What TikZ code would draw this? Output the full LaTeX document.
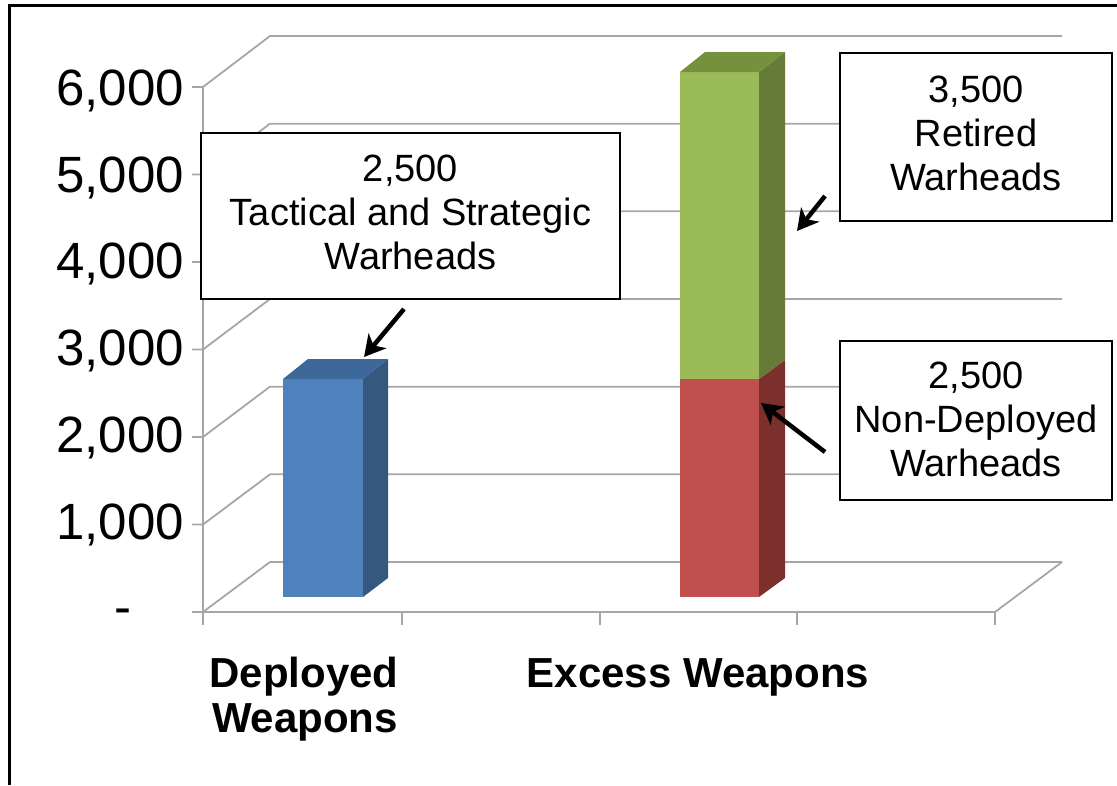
\documentclass[tikz,border=0pt]{standalone}
\usepackage{fontspec}
\setmainfont{Liberation Sans}
\usetikzlibrary{arrows.meta}
\definecolor{blueF}{HTML}{4F81BD}
\definecolor{blueS}{HTML}{35587F}
\definecolor{blueT}{HTML}{3D6699}
\definecolor{redF}{HTML}{C0504D}
\definecolor{redS}{HTML}{7B302E}
\definecolor{greenF}{HTML}{9BBB59}
\definecolor{greenS}{HTML}{667B38}
\definecolor{greenT}{HTML}{76913C}
\definecolor{gridgray}{HTML}{A6A6A6}
\tikzset{
  grid/.style={draw=gridgray, line width=1.8pt},
  ylab/.style={anchor=east, inner sep=0pt, font=\fontsize{51}{56}\selectfont},
  catlab/.style={inner sep=0pt, font=\fontsize{42}{47}\bfseries\selectfont, align=center},
  callout/.style={draw=black, fill=white, line width=2pt, inner sep=0pt},
  callouttext/.style={align=center, inner sep=0pt, font=\fontsize{38}{44}\selectfont},
  pointer/.style={draw=black, line width=4.5pt, -{Stealth[length=21pt,width=23pt,inset=6pt]}},
}
\begin{document}
\begin{tikzpicture}[x=1pt,y=-1pt]
\useasboundingbox (0,0) rectangle (1117,785);
% outer frame (cropped)
\draw[black, line width=3pt] (9,785) -- (9,5) -- (1117,5);
% gridlines: tick, side wall diagonal, back wall
\foreach \k in {0,...,6}{
  \pgfmathsetmacro\yf{612-87.5*\k}
  \pgfmathsetmacro\yb{562-87.67*\k}
  \draw[grid] (192,\yf) -- (203,\yf) -- (270,\yb) -- (1062,\yb);
}
% floor and axis
\draw[grid] (203,87) -- (203,612) -- (995,612) -- (1062,562);
\foreach \x in {203,402,600,797,995} \draw[grid] (\x,612) -- (\x,625);
% y labels
\node[ylab] (y6) at (184,91) {6,000};
\node[ylab] (y5) at (184,178) {5,000};
\node[ylab] (y4) at (184,264) {4,000};
\node[ylab] (y3) at (184,351) {3,000};
\node[ylab] (y2) at (184,438) {2,000};
\node[ylab] (y1) at (184,525) {1,000};
\node[ylab] (y0) at (132,617) {-};
% bar 1 (blue)
\fill[blueF] (283,597) rectangle (363,379);
\fill[blueS] (363,597) -- (388,578) -- (388,359) -- (363,379) -- cycle;
\fill[blueT] (283,379) -- (308,359) -- (388,359) -- (363,379) -- cycle;
% bar 2 (red + green)
\fill[redF] (680,597) rectangle (759,379);
\fill[redS] (759,597) -- (785,578) -- (785,360) -- (759,379) -- cycle;
\fill[greenF] (680,379) rectangle (759,72);
\fill[greenS] (759,379) -- (785,360) -- (785,52) -- (759,72) -- cycle;
\fill[greenT] (680,72) -- (705,52) -- (785,52) -- (759,72) -- cycle;
% category labels
\node[catlab] (c1a) at (304,677) {Deployed};
\node[catlab] (c1b) at (305,722) {Weapons};
\node[catlab] (c2) at (698,677) {Excess Weapons};
% callouts
\node[callout, minimum width=419pt, minimum height=166pt] (b1) at (410.5,216) {};
\node[callouttext] (t1) at (410.5,212) {2,500\\Tactical and Strategic\\Warheads};
\node[callout, minimum width=272pt, minimum height=168pt] (b2) at (976,137) {};
\node[callouttext] (t2) at (976,133) {3,500\\Retired\\Warheads};
\node[callout, minimum width=272pt, minimum height=159pt] (b3) at (976,420.5) {};
\node[callouttext] (t3) at (976,419) {2,500\\Non-Deployed\\Warheads};
% arrows
\coordinate (a1s) at (404,309);
\coordinate (a1e) at (364,357);
\coordinate (a2s) at (825,196);
\coordinate (a2e) at (797,231);
\coordinate (a3s) at (825,452);
\coordinate (a3e) at (761,403);
\draw[pointer] (a1s) -- (a1e);
\draw[pointer] (a2s) -- (a2e);
\draw[pointer] (a3s) -- (a3e);
\end{tikzpicture}
\end{document}
